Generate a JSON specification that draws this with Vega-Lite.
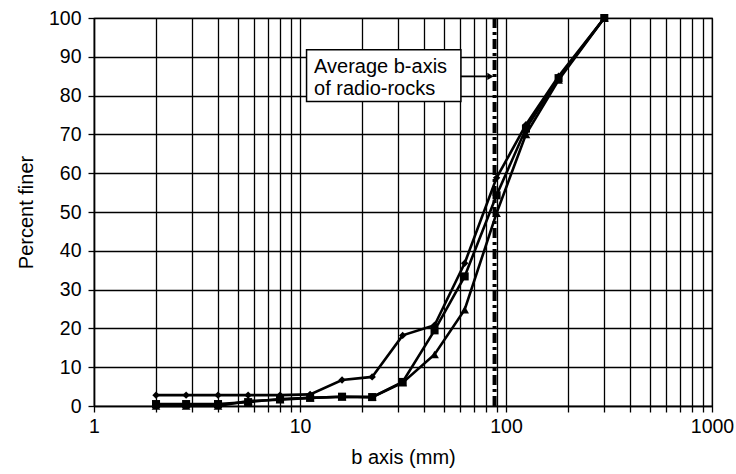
{
  "$schema": "https://vega.github.io/schema/vega-lite/v6.json",
  "autosize": "none",
  "width": 618,
  "height": 388,
  "padding": {"left": 94, "top": 18, "right": 24, "bottom": 68},
  "background": "white",
  "config": {
    "view": {"stroke": "black", "strokeWidth": 1.2},
    "font": "Liberation Sans",
    "axis": {
      "domainColor": "black", "domainWidth": 1.5,
      "gridColor": "black", "gridOpacity": 1, "gridWidth": 1.3,
      "tickColor": "black", "tickWidth": 1.3, "tickSize": 6,
      "labelColor": "black", "labelFont": "Liberation Sans", "labelFontSize": 19.5,
      "titleColor": "black", "titleFont": "Liberation Sans", "titleFontSize": 20, "titleFontWeight": "normal",
      "labelOverlap": false, "labelFlush": false, "labelBound": false
    }
  },
  "datasets": {
    "curves": [
      {"size": 2, "series": "A", "pct": 2.8},
      {"size": 2.8, "series": "A", "pct": 2.8},
      {"size": 4, "series": "A", "pct": 2.8},
      {"size": 5.6, "series": "A", "pct": 2.8},
      {"size": 8, "series": "A", "pct": 2.8},
      {"size": 11.2, "series": "A", "pct": 3.0},
      {"size": 16, "series": "A", "pct": 6.7},
      {"size": 22.4, "series": "A", "pct": 7.5},
      {"size": 31.5, "series": "A", "pct": 18.2},
      {"size": 45, "series": "A", "pct": 20.8},
      {"size": 63, "series": "A", "pct": 36.8},
      {"size": 90, "series": "A", "pct": 58.8},
      {"size": 125, "series": "A", "pct": 72.5},
      {"size": 180, "series": "A", "pct": 85},
      {"size": 300, "series": "A", "pct": 100},
      {"size": 2, "series": "B", "pct": 0.5},
      {"size": 2.8, "series": "B", "pct": 0.5},
      {"size": 4, "series": "B", "pct": 0.5},
      {"size": 5.6, "series": "B", "pct": 1.0},
      {"size": 8, "series": "B", "pct": 1.8},
      {"size": 11.2, "series": "B", "pct": 2.1},
      {"size": 16, "series": "B", "pct": 2.4},
      {"size": 22.4, "series": "B", "pct": 2.3},
      {"size": 31.5, "series": "B", "pct": 6.2},
      {"size": 45, "series": "B", "pct": 19.5},
      {"size": 63, "series": "B", "pct": 33.4},
      {"size": 90, "series": "B", "pct": 54.3},
      {"size": 125, "series": "B", "pct": 71.5},
      {"size": 180, "series": "B", "pct": 84.5},
      {"size": 300, "series": "B", "pct": 100},
      {"size": 2, "series": "C", "pct": 0},
      {"size": 2.8, "series": "C", "pct": 0},
      {"size": 4, "series": "C", "pct": 0},
      {"size": 5.6, "series": "C", "pct": 1.3},
      {"size": 8, "series": "C", "pct": 1.6},
      {"size": 11.2, "series": "C", "pct": 2.1},
      {"size": 16, "series": "C", "pct": 2.4},
      {"size": 22.4, "series": "C", "pct": 2.3},
      {"size": 31.5, "series": "C", "pct": 6.0},
      {"size": 45, "series": "C", "pct": 13.3},
      {"size": 63, "series": "C", "pct": 24.8},
      {"size": 90, "series": "C", "pct": 49.7},
      {"size": 125, "series": "C", "pct": 70},
      {"size": 180, "series": "C", "pct": 84},
      {"size": 300, "series": "C", "pct": 100}
    ],
    "avgline": [{"avg": 88, "lo": 0, "hi": 100}],
    "note": [{"label": ["Average b-axis", "of radio-rocks"], "bx1": 10.76, "bx2": 60.4, "by1": 91.8, "by2": 78.5, "tx": 11.7, "ty": 85.9, "ax1": 60.4, "ax2": 83, "ay": 84.95, "tip": 84}]
  },
  "layer": [
    {
      "data": {"name": "curves"},
      "mark": {"type": "line", "color": "black", "strokeWidth": 2.6},
      "encoding": {
        "x": {
          "field": "size", "type": "quantitative",
          "scale": {"type": "log", "domain": [1, 1000], "nice": false},
          "axis": {"title": "b axis (mm)", "values": [1,2,3,4,5,6,7,8,9,10,20,30,40,50,60,70,80,90,100,200,300,400,500,600,700,800,900,1000], "format": "d", "labelExpr": "(datum.value == 1 || datum.value == 10 || datum.value == 100 || datum.value == 1000) ? datum.label : ''", "labelPadding": 5, "titlePadding": 12}
        },
        "y": {
          "field": "pct", "type": "quantitative",
          "scale": {"domain": [0, 100], "nice": false},
          "axis": {"title": "Percent finer", "values": [0,10,20,30,40,50,60,70,80,90,100], "labelPadding": 7, "titlePadding": 12}
        },
        "detail": {"field": "series"}
      }
    },
    {
      "data": {"name": "curves"},
      "mark": {"type": "point", "filled": true, "color": "black", "opacity": 1},
      "encoding": {
        "x": {"field": "size", "type": "quantitative",
          "axis": {"title": "b axis (mm)", "values": [1,2,3,4,5,6,7,8,9,10,20,30,40,50,60,70,80,90,100,200,300,400,500,600,700,800,900,1000], "format": "d", "labelExpr": "(datum.value == 1 || datum.value == 10 || datum.value == 100 || datum.value == 1000) ? datum.label : ''", "labelPadding": 5, "titlePadding": 12}},
        "y": {"field": "pct", "type": "quantitative",
          "axis": {"title": "Percent finer", "values": [0,10,20,30,40,50,60,70,80,90,100], "labelPadding": 7, "titlePadding": 12}},
        "shape": {"field": "series", "type": "nominal", "scale": {"domain": ["A","B","C"], "range": ["diamond","square","triangle-up"]}, "legend": null},
        "size": {"field": "series", "type": "nominal", "scale": {"domain": ["A","B","C"], "range": [55, 75, 35]}, "legend": null}
      }
    },
    {
      "data": {"name": "avgline"},
      "mark": {"type": "rule", "color": "black", "strokeWidth": 4, "strokeDash": [10, 4, 3, 4]},
      "encoding": {
        "x": {"field": "avg", "type": "quantitative",
          "axis": {"title": "b axis (mm)", "values": [1,2,3,4,5,6,7,8,9,10,20,30,40,50,60,70,80,90,100,200,300,400,500,600,700,800,900,1000], "format": "d", "labelExpr": "(datum.value == 1 || datum.value == 10 || datum.value == 100 || datum.value == 1000) ? datum.label : ''", "labelPadding": 5, "titlePadding": 12}},
        "y": {"field": "lo", "type": "quantitative",
          "axis": {"title": "Percent finer", "values": [0,10,20,30,40,50,60,70,80,90,100], "labelPadding": 7, "titlePadding": 12}},
        "y2": {"field": "hi"}
      }
    },
    {
      "data": {"name": "note"},
      "mark": {"type": "rect", "fill": "white", "stroke": "black", "strokeWidth": 1.5},
      "encoding": {
        "x": {"field": "bx1", "type": "quantitative",
          "axis": {"title": "b axis (mm)", "values": [1,2,3,4,5,6,7,8,9,10,20,30,40,50,60,70,80,90,100,200,300,400,500,600,700,800,900,1000], "format": "d", "labelExpr": "(datum.value == 1 || datum.value == 10 || datum.value == 100 || datum.value == 1000) ? datum.label : ''", "labelPadding": 5, "titlePadding": 12}},
        "x2": {"field": "bx2"},
        "y": {"field": "by1", "type": "quantitative",
          "axis": {"title": "Percent finer", "values": [0,10,20,30,40,50,60,70,80,90,100], "labelPadding": 7, "titlePadding": 12}},
        "y2": {"field": "by2"}
      }
    },
    {
      "data": {"name": "note"},
      "mark": {"type": "text", "align": "left", "baseline": "alphabetic", "fontSize": 20, "lineHeight": 22, "color": "black", "font": "Liberation Sans", "fontWeight": "normal"},
      "encoding": {
        "x": {"field": "tx", "type": "quantitative",
          "axis": {"title": "b axis (mm)", "values": [1,2,3,4,5,6,7,8,9,10,20,30,40,50,60,70,80,90,100,200,300,400,500,600,700,800,900,1000], "format": "d", "labelExpr": "(datum.value == 1 || datum.value == 10 || datum.value == 100 || datum.value == 1000) ? datum.label : ''", "labelPadding": 5, "titlePadding": 12}},
        "y": {"field": "ty", "type": "quantitative",
          "axis": {"title": "Percent finer", "values": [0,10,20,30,40,50,60,70,80,90,100], "labelPadding": 7, "titlePadding": 12}},
        "text": {"field": "label"}
      }
    },
    {
      "data": {"name": "note"},
      "mark": {"type": "rule", "color": "black", "strokeWidth": 1.8},
      "encoding": {
        "x": {"field": "ax1", "type": "quantitative",
          "axis": {"title": "b axis (mm)", "values": [1,2,3,4,5,6,7,8,9,10,20,30,40,50,60,70,80,90,100,200,300,400,500,600,700,800,900,1000], "format": "d", "labelExpr": "(datum.value == 1 || datum.value == 10 || datum.value == 100 || datum.value == 1000) ? datum.label : ''", "labelPadding": 5, "titlePadding": 12}},
        "x2": {"field": "ax2"},
        "y": {"field": "ay", "type": "quantitative",
          "axis": {"title": "Percent finer", "values": [0,10,20,30,40,50,60,70,80,90,100], "labelPadding": 7, "titlePadding": 12}}
      }
    },
    {
      "data": {"name": "note"},
      "mark": {"type": "point", "shape": "triangle-right", "filled": true, "color": "black", "opacity": 1, "size": 50},
      "encoding": {
        "x": {"field": "tip", "type": "quantitative",
          "axis": {"title": "b axis (mm)", "values": [1,2,3,4,5,6,7,8,9,10,20,30,40,50,60,70,80,90,100,200,300,400,500,600,700,800,900,1000], "format": "d", "labelExpr": "(datum.value == 1 || datum.value == 10 || datum.value == 100 || datum.value == 1000) ? datum.label : ''", "labelPadding": 5, "titlePadding": 12}},
        "y": {"field": "ay", "type": "quantitative",
          "axis": {"title": "Percent finer", "values": [0,10,20,30,40,50,60,70,80,90,100], "labelPadding": 7, "titlePadding": 12}}
      }
    }
  ]
}
